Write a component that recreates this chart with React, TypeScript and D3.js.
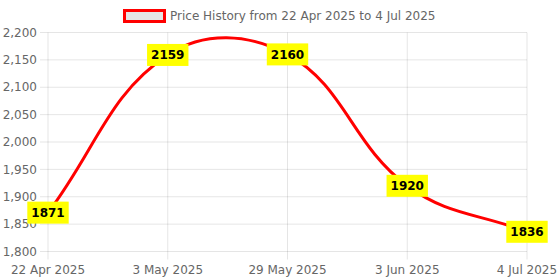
import { useEffect, useRef } from 'react'
import * as d3 from 'd3'

const categories = ['22 Apr 2025', '3 May 2025', '29 May 2025', '3 Jun 2025', '4 Jul 2025']
const prices = [1871, 2159, 2160, 1920, 1836]
const yTicks = [1800, 1850, 1900, 1950, 2000, 2050, 2100, 2150, 2200]
const legendLabel = 'Price History from 22 Apr 2025 to 4 Jul 2025'

const svgWidth = 560
const svgHeight = 280
const margin = { top: 32.5, right: 33, bottom: 28.5, left: 48 }
const font = '"DejaVu Sans", sans-serif'
const grid = 'rgba(0,0,0,0.1)'

// chart.js style spline control points (tension 0.4)
function splinePath(pts, t = 0.4) {
  const p = d3.path()
  const ctrl = pts.map((cur, i) => {
    const prev = pts[i - 1] || cur
    const next = pts[i + 1] || cur
    const d01 = Math.hypot(cur[0] - prev[0], cur[1] - prev[1])
    const d12 = Math.hypot(next[0] - cur[0], next[1] - cur[1])
    const s01 = d01 + d12 ? d01 / (d01 + d12) : 0
    const s12 = d01 + d12 ? d12 / (d01 + d12) : 0
    const dx = next[0] - prev[0]
    const dy = next[1] - prev[1]
    return {
      prev: [cur[0] - t * s01 * dx, cur[1] - t * s01 * dy],
      next: [cur[0] + t * s12 * dx, cur[1] + t * s12 * dy]
    }
  })
  p.moveTo(pts[0][0], pts[0][1])
  for (let i = 1; i < pts.length; i++) {
    const a = ctrl[i - 1].next
    const b = ctrl[i].prev
    p.bezierCurveTo(a[0], a[1], b[0], b[1], pts[i][0], pts[i][1])
  }
  return p.toString()
}

export default function App() {
  const svgRef = useRef(null)
  const width = svgWidth - margin.left - margin.right
  const height = svgHeight - margin.top - margin.bottom

  useEffect(() => {
    document.body.style.margin = '0'
    svgRef.current.innerHTML = ''

    const x = d3.scalePoint().domain(categories).range([0, width])
    const y = d3.scaleLinear().domain([1800, 2200]).range([height, 0])

    const svg = d3.select(svgRef.current)

    // legend
    const legend = svg.append('g')
    legend.append('rect')
      .attr('x', 124.5).attr('y', 10.5)
      .attr('width', 40).attr('height', 11)
      .attr('fill', 'rgba(0,0,0,0.1)')
      .attr('stroke', '#ff0000')
      .attr('stroke-width', 3)
    legend.append('text')
      .attr('x', 170).attr('y', 20)
      .attr('font-size', 12)
      .attr('fill', '#666')
      .text(legendLabel)

    const g = svg.append('g')
      .attr('transform', `translate(${margin.left}, ${margin.top})`)
      .style('font-family', font)

    // horizontal grid + y labels
    const yAxis = g.append('g')
    yTicks.forEach(v => {
      yAxis.append('line')
        .attr('x1', -8).attr('x2', width)
        .attr('y1', y(v)).attr('y2', y(v))
        .attr('stroke', grid)
      yAxis.append('text')
        .attr('x', -11).attr('y', y(v))
        .attr('dy', '0.35em')
        .attr('text-anchor', 'end')
        .attr('font-size', 12)
        .attr('fill', '#666')
        .text(d3.format(',')(v))
    })

    // vertical grid + x labels
    const xAxis = g.append('g')
    categories.forEach(c => {
      xAxis.append('line')
        .attr('x1', x(c)).attr('x2', x(c))
        .attr('y1', 0).attr('y2', height + 8)
        .attr('stroke', grid)
      xAxis.append('text')
        .attr('x', x(c)).attr('y', height + 22.5)
        .attr('text-anchor', 'middle')
        .attr('font-size', 12)
        .attr('fill', '#666')
        .text(c)
    })

    const pts = categories.map((c, i) => [x(c), y(prices[i])])

    g.append('path')
      .attr('d', splinePath(pts))
      .attr('fill', 'none')
      .attr('stroke', '#ff0000')
      .attr('stroke-width', 3)

    // data labels
    const labels = g.append('g')
    pts.forEach((p, i) => {
      const lg = labels.append('g').attr('transform', `translate(${p[0]}, ${p[1]})`)
      const txt = lg.append('text')
        .attr('text-anchor', 'middle')
        .attr('dy', '0.35em')
        .attr('font-size', 12)
        .attr('font-weight', 'bold')
        .attr('fill', '#000')
        .text(prices[i])
      const w = txt.node().getComputedTextLength() + 8
      lg.insert('rect', 'text')
        .attr('x', -w / 2).attr('y', -11)
        .attr('width', w).attr('height', 22)
        .attr('fill', '#ffff00')
    })
  }, [])

  return (
    <svg
      ref={svgRef}
      width={svgWidth}
      height={svgHeight}
      viewBox={`0 0 ${svgWidth} ${svgHeight}`}
      style={{ display: 'block', fontFamily: font, background: '#fff' }}
    />
  )
}
